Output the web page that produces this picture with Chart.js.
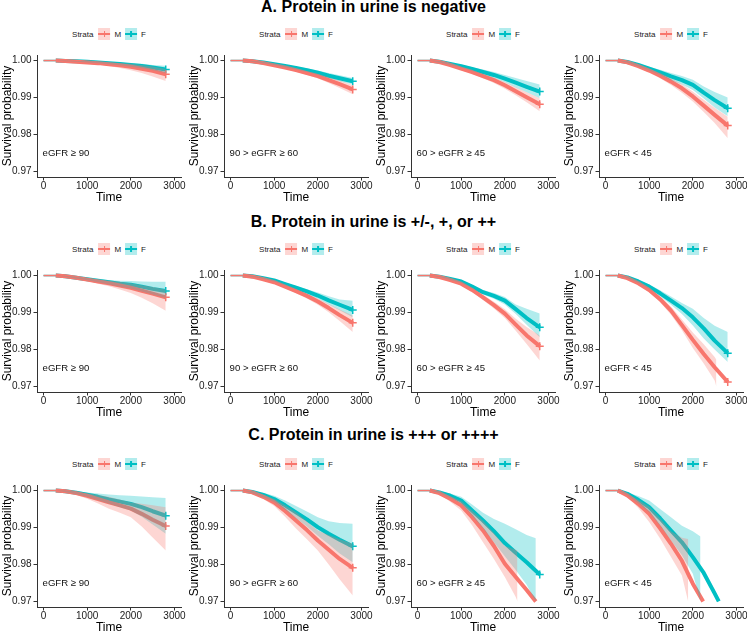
<!DOCTYPE html>
<html lang="en">
<head>
    <meta charset="UTF-8">
    <title>Survival probability by eGFR and urine protein</title>
    <script src="https://cdn.jsdelivr.net/npm/chart.js"></script>
    <style>
        body {
            margin: 0;
            width: 747px;
            height: 631px;
            overflow: hidden;
            background: #fff;
            position: relative;
            font-family: "Liberation Sans", Arial, sans-serif;
        }
        .row-title {
            position: absolute;
            left: 0;
            width: 747px;
            text-align: center;
            font-weight: bold;
            font-size: 16px;
            line-height: 16px;
            color: #000;
        }
        .panel { position: absolute; }
        .legend {
            position: absolute;
            display: flex;
            align-items: center;
            font-size: 8px;
            color: #222;
            white-space: nowrap;
            transform: translate(-50%, -50%);
        }
        .key { position: relative; width: 12px; height: 12px; margin: 0 4px 0 4px; }
        .key .h { position: absolute; left: 0; top: 5.25px; width: 12px; height: 1.5px; }
        .key .v { position: absolute; left: 5.25px; top: 3px; width: 1.5px; height: 6px; }
    </style>
</head>
<body>
    <script>
        const rowTitles = [
            'A. Protein in urine is negative',
            'B. Protein in urine is +/-, +, or ++',
            'C. Protein in urine is +++ or ++++'
        ];
        const stratumLabels = ['eGFR ≥ 90', '90 > eGFR ≥ 60', '60 > eGFR ≥ 45', 'eGFR < 45'];
        const strataNames = ['M', 'F'];
        const xTickValues = [0, 1000, 2000, 3000];
        const yTickValues = [0.97, 0.98, 0.99, 1.00];
        const censorStart = 280;

        // follow-up times (days) at which the curves were read
        const timeGrid = [0, 280, 500, 750, 1000, 1250, 1500, 1750, 2000, 2250, 2500, 2800];

        // panels in order A1..A4, B1..B4, C1..C4 ; null = curve already below 0.97
        const survM = [
            [1, 1, 0.9999, 0.9997, 0.9995, 0.9993, 0.9990, 0.9987, 0.9983, 0.9978, 0.9972, 0.9963],
            [1, 1, 0.9998, 0.9993, 0.9987, 0.9981, 0.9974, 0.9966, 0.9958, 0.9947, 0.9936, 0.9922],
            [1, 1, 0.9996, 0.9988, 0.9978, 0.9969, 0.9958, 0.9947, 0.9933, 0.9917, 0.9901, 0.9882],
            [1, 1, 0.9995, 0.9985, 0.9973, 0.9959, 0.9943, 0.9925, 0.9903, 0.9878, 0.9853, 0.9824],
            [1, 1, 0.9998, 0.9994, 0.9989, 0.9984, 0.9979, 0.9973, 0.9967, 0.9959, 0.9951, 0.9941],
            [1, 1, 0.9997, 0.9990, 0.9982, 0.9970, 0.9958, 0.9945, 0.9930, 0.9912, 0.9893, 0.9872],
            [1, 1, 0.9996, 0.9988, 0.9978, 0.9961, 0.9941, 0.9920, 0.9897, 0.9867, 0.9838, 0.9809],
            [1, 1, 0.9993, 0.9979, 0.9961, 0.9936, 0.9905, 0.9866, 0.9826, 0.9788, 0.9752, 0.9712],
            [1, 1, 0.9998, 0.9993, 0.9986, 0.9977, 0.9968, 0.9960, 0.9951, 0.9937, 0.9921, 0.9904],
            [1, 1, 0.9995, 0.9983, 0.9968, 0.9945, 0.9919, 0.9893, 0.9865, 0.9840, 0.9815, 0.9791],
            [1, 1, 0.9993, 0.9978, 0.9960, 0.9928, 0.9892, 0.9850, 0.9802, 0.9766, 0.9731, null],
            [1, 1, 0.9987, 0.9964, 0.9937, 0.9898, 0.9856, 0.9810, 0.9748, null, null, null]
        ];
        const survF = [
            [1, 1, 0.9999, 0.9998, 0.9997, 0.9995, 0.9993, 0.9991, 0.9988, 0.9985, 0.9981, 0.9976],
            [1, 1, 0.9998, 0.9995, 0.9990, 0.9985, 0.9980, 0.9974, 0.9967, 0.9959, 0.9952, 0.9944],
            [1, 1, 0.9997, 0.9991, 0.9985, 0.9977, 0.9969, 0.9961, 0.9951, 0.9940, 0.9929, 0.9916],
            [1, 1, 0.9996, 0.9988, 0.9978, 0.9968, 0.9957, 0.9947, 0.9934, 0.9913, 0.9893, 0.9871],
            [1, 1, 0.9998, 0.9994, 0.9990, 0.9986, 0.9982, 0.9978, 0.9975, 0.9970, 0.9964, 0.9958],
            [1, 1, 0.9998, 0.9993, 0.9987, 0.9977, 0.9967, 0.9957, 0.9946, 0.9933, 0.9921, 0.9907],
            [1, 1, 0.9997, 0.9991, 0.9984, 0.9970, 0.9955, 0.9945, 0.9932, 0.9909, 0.9885, 0.9860],
            [1, 1, 0.9995, 0.9984, 0.9970, 0.9952, 0.9932, 0.9912, 0.9887, 0.9857, 0.9824, 0.9790],
            [1, 1, 0.9998, 0.9994, 0.9989, 0.9983, 0.9976, 0.9970, 0.9964, 0.9955, 0.9944, 0.9932],
            [1, 1, 0.9996, 0.9988, 0.9977, 0.9960, 0.9941, 0.9922, 0.9901, 0.9883, 0.9867, 0.9849],
            [1, 1, 0.9995, 0.9986, 0.9973, 0.9946, 0.9919, 0.9890, 0.9858, 0.9832, 0.9806, 0.9773],
            [1, 1, 0.9991, 0.9975, 0.9955, 0.9925, 0.9892, 0.9860, 0.9820, 0.9777, 0.9722, null]
        ];

        // 95% confidence bands
        const lowerM = [
            [1, 1, 0.9998, 0.9995, 0.9992, 0.9989, 0.9985, 0.9980, 0.9974, 0.9966, 0.9957, 0.9945],
            [1, 1, 0.9997, 0.9991, 0.9985, 0.9978, 0.9970, 0.9961, 0.9952, 0.9939, 0.9926, 0.9909],
            [1, 1, 0.9994, 0.9985, 0.9974, 0.9964, 0.9952, 0.9939, 0.9924, 0.9906, 0.9887, 0.9863],
            [1, 1, 0.9993, 0.9981, 0.9968, 0.9952, 0.9934, 0.9913, 0.9889, 0.9861, 0.9831, 0.9790],
            [1, 1, 0.9997, 0.9991, 0.9985, 0.9978, 0.9971, 0.9962, 0.9953, 0.9940, 0.9925, 0.9905],
            [1, 1, 0.9996, 0.9988, 0.9979, 0.9966, 0.9953, 0.9938, 0.9921, 0.9901, 0.9877, 0.9847],
            [1, 1, 0.9995, 0.9985, 0.9974, 0.9956, 0.9934, 0.9911, 0.9885, 0.9851, 0.9815, 0.9770],
            [1, 1, 0.9991, 0.9975, 0.9955, 0.9928, 0.9894, 0.9852, 0.9804, 0.9762, 0.9716, null],
            [1, 1, 0.9996, 0.9988, 0.9978, 0.9965, 0.9951, 0.9940, 0.9928, 0.9903, 0.9873, 0.9838],
            [1, 1, 0.9992, 0.9977, 0.9958, 0.9929, 0.9897, 0.9868, 0.9838, 0.9800, 0.9760, 0.9716],
            [1, 1, 0.9990, 0.9970, 0.9946, 0.9906, 0.9860, 0.9815, 0.9766, 0.9712, null, null],
            [1, 1, 0.9983, 0.9953, 0.9915, 0.9870, 0.9820, 0.9770, null, null, null, null]
        ];
        const upperM = [
            [1, 1, 1.0000, 0.9999, 0.9998, 0.9997, 0.9995, 0.9993, 0.9991, 0.9988, 0.9984, 0.9977],
            [1, 1, 0.9999, 0.9995, 0.9989, 0.9984, 0.9978, 0.9971, 0.9964, 0.9955, 0.9946, 0.9934],
            [1, 1, 0.9998, 0.9991, 0.9982, 0.9974, 0.9964, 0.9954, 0.9942, 0.9928, 0.9914, 0.9898],
            [1, 1, 0.9997, 0.9989, 0.9978, 0.9966, 0.9952, 0.9936, 0.9916, 0.9894, 0.9872, 0.9848],
            [1, 1, 0.9999, 0.9997, 0.9993, 0.9990, 0.9986, 0.9983, 0.9979, 0.9974, 0.9969, 0.9962],
            [1, 1, 0.9998, 0.9992, 0.9985, 0.9974, 0.9963, 0.9951, 0.9938, 0.9923, 0.9908, 0.9892],
            [1, 1, 0.9997, 0.9991, 0.9982, 0.9966, 0.9948, 0.9929, 0.9909, 0.9883, 0.9861, 0.9838],
            [1, 1, 0.9995, 0.9983, 0.9967, 0.9944, 0.9916, 0.9881, 0.9846, 0.9814, 0.9780, null],
            [1, 1, 0.9999, 0.9997, 0.9993, 0.9988, 0.9983, 0.9976, 0.9968, 0.9964, 0.9960, 0.9955],
            [1, 1, 0.9998, 0.9989, 0.9977, 0.9960, 0.9941, 0.9916, 0.9892, 0.9880, 0.9868, 0.9856],
            [1, 1, 0.9996, 0.9985, 0.9972, 0.9946, 0.9918, 0.9885, 0.9850, 0.9840, null, null],
            [1, 1, 0.9991, 0.9975, 0.9957, 0.9925, 0.9890, 0.9872, null, null, null, null]
        ];
        const lowerF = [
            [1, 1, 0.9998, 0.9997, 0.9995, 0.9993, 0.9990, 0.9987, 0.9983, 0.9979, 0.9974, 0.9966],
            [1, 1, 0.9997, 0.9993, 0.9988, 0.9982, 0.9976, 0.9969, 0.9961, 0.9952, 0.9944, 0.9935],
            [1, 1, 0.9995, 0.9988, 0.9981, 0.9972, 0.9962, 0.9953, 0.9941, 0.9927, 0.9914, 0.9898],
            [1, 1, 0.9994, 0.9984, 0.9973, 0.9961, 0.9947, 0.9935, 0.9920, 0.9897, 0.9873, 0.9849],
            [1, 1, 0.9997, 0.9992, 0.9987, 0.9982, 0.9976, 0.9970, 0.9965, 0.9957, 0.9949, 0.9939],
            [1, 1, 0.9997, 0.9991, 0.9984, 0.9973, 0.9962, 0.9950, 0.9937, 0.9922, 0.9906, 0.9887],
            [1, 1, 0.9996, 0.9988, 0.9980, 0.9965, 0.9949, 0.9937, 0.9922, 0.9896, 0.9867, 0.9833],
            [1, 1, 0.9993, 0.9980, 0.9964, 0.9944, 0.9921, 0.9896, 0.9865, 0.9830, 0.9800, 0.9766],
            [1, 1, 0.9996, 0.9990, 0.9983, 0.9974, 0.9964, 0.9955, 0.9946, 0.9929, 0.9908, 0.9883],
            [1, 1, 0.9993, 0.9982, 0.9969, 0.9948, 0.9926, 0.9903, 0.9878, 0.9855, 0.9830, 0.9806],
            [1, 1, 0.9993, 0.9980, 0.9964, 0.9932, 0.9898, 0.9860, 0.9822, 0.9785, 0.9745, null],
            [1, 1, 0.9987, 0.9965, 0.9941, 0.9905, 0.9865, 0.9825, 0.9775, null, null, null]
        ];
        const upperF = [
            [1, 1, 1.0000, 0.9999, 0.9999, 0.9998, 0.9996, 0.9995, 0.9993, 0.9991, 0.9988, 0.9986],
            [1, 1, 0.9999, 0.9997, 0.9992, 0.9988, 0.9984, 0.9979, 0.9973, 0.9966, 0.9960, 0.9953],
            [1, 1, 0.9999, 0.9994, 0.9989, 0.9982, 0.9976, 0.9969, 0.9961, 0.9953, 0.9945, 0.9935],
            [1, 1, 0.9998, 0.9992, 0.9983, 0.9975, 0.9966, 0.9958, 0.9948, 0.9930, 0.9915, 0.9900],
            [1, 1, 0.9999, 0.9997, 0.9993, 0.9990, 0.9988, 0.9986, 0.9985, 0.9984, 0.9983, 0.9983],
            [1, 1, 0.9999, 0.9995, 0.9990, 0.9981, 0.9972, 0.9963, 0.9954, 0.9944, 0.9935, 0.9932],
            [1, 1, 0.9998, 0.9994, 0.9988, 0.9975, 0.9961, 0.9953, 0.9942, 0.9922, 0.9910, 0.9897],
            [1, 1, 0.9997, 0.9988, 0.9976, 0.9960, 0.9943, 0.9926, 0.9910, 0.9885, 0.9864, 0.9847],
            [1, 1, 1.0000, 0.9998, 0.9995, 0.9992, 0.9989, 0.9987, 0.9986, 0.9984, 0.9982, 0.9980],
            [1, 1, 0.9999, 0.9994, 0.9986, 0.9973, 0.9958, 0.9943, 0.9928, 0.9917, 0.9912, 0.9910],
            [1, 1, 0.9998, 0.9992, 0.9983, 0.9962, 0.9940, 0.9923, 0.9910, 0.9895, 0.9880, null],
            [1, 1, 0.9995, 0.9985, 0.9973, 0.9950, 0.9928, 0.9905, 0.9890, null, null, null]
        ];

        // last point where a curve reaches the 0.97 floor: [time, survival]
        const endM = [null, null, null, null, null, null, null, null, null, null, [2710, 0.9700], [2237, 0.9700]];
        const endF = [null, null, null, null, null, null, null, null, null, null, null, [2595, 0.9700]];
        // last point of a band before its lower edge leaves the plot: [time, lower, upper]
        const bandEndM = [null, null, null, null, null, null, null, [2540, 0.9700, 0.9772],
            null, null, [2290, 0.9700, 0.9838], [1893, 0.9700, 0.9869]];
        const bandEndF = [null, null, null, null, null, null, null, null,
            null, null, [2710, 0.9700, 0.9871], [2176, 0.9700, 0.9876]];

        const colorM = '#F8766D';
        const colorF = '#00BFC4';
        const bandColorM = 'rgba(248, 118, 109, 0.3)';
        const bandColorF = 'rgba(0, 191, 196, 0.3)';
        const font = '"Liberation Sans", Arial, sans-serif';
        const axisColor = '#333';

        const axisLeft = [37, 224, 411, 599];
        const plotTop = [55, 270, 485];
        const titleTop = [-1.5, 213.5, 426.5];

        function points(values, extra) {
            const pts = [];
            timeGrid.forEach((t, i) => {
                if (values[i] !== null) pts.push({ x: t, y: values[i] });
            });
            if (extra) pts.push({ x: extra[0], y: extra[1] });
            return pts;
        }

        function bandSets(lower, upper, end, color) {
            const lo = points(lower, end && [end[0], end[1]]);
            const hi = points(upper, end && [end[0], end[2]]);
            return [
                { data: hi, fill: '+1', backgroundColor: color, borderColor: 'rgba(0,0,0,0)', borderWidth: 0, pointRadius: 0 },
                { data: lo, fill: false, borderColor: 'rgba(0,0,0,0)', borderWidth: 0, pointRadius: 0 }
            ];
        }

        function lineSet(pts, color, cut) {
            return {
                data: pts,
                fill: false,
                borderColor: color,
                backgroundColor: color,
                borderWidth: 4,
                borderJoinStyle: 'round',
                segment: {
                    borderWidth: c => c.p1.parsed.x <= censorStart ? 1.5 : 4
                },
                pointStyle: 'cross',
                pointBorderColor: color,
                pointBorderWidth: 1.5,
                pointRadius: c => (!cut && c.dataIndex === pts.length - 1) ? 4 : 0
            };
        }

        const stratumLabel = {
            id: 'stratumLabel',
            afterDatasetsDraw(chart, args, opts) {
                const { ctx, scales } = chart;
                ctx.save();
                ctx.font = '9.6px ' + font;
                ctx.fillStyle = '#111';
                ctx.textAlign = 'left';
                ctx.textBaseline = 'middle';
                ctx.fillText(opts.text, scales.x.getPixelForValue(0) - 1, scales.y.getPixelForValue(0.975));
                ctx.restore();
            }
        };

        rowTitles.forEach((text, row) => {
            const div = document.createElement('div');
            div.className = 'row-title';
            div.style.top = titleTop[row] + 'px';
            div.textContent = text;
            document.body.appendChild(div);
        });

        function makeLegend(cx, cy) {
            const lg = document.createElement('div');
            lg.className = 'legend';
            lg.style.left = cx + 'px';
            lg.style.top = cy + 'px';
            let html = '<span style="margin-right:1px">Strata</span>';
            strataNames.forEach((name, k) => {
                const c = k === 0 ? colorM : colorF;
                const b = k === 0 ? bandColorM : bandColorF;
                html += '<div class="key" style="background:' + b + '">' +
                    '<div class="h" style="background:' + c + '"></div>' +
                    '<div class="v" style="background:' + c + '"></div></div>' +
                    '<span>' + name + '</span>';
            });
            lg.innerHTML = html;
            document.body.appendChild(lg);
        }

        for (let row = 0; row < 3; row++) {
            for (let col = 0; col < 4; col++) {
                const p = row * 4 + col;
                const canvas = document.createElement('canvas');
                canvas.width = 187;
                canvas.height = 160;
                canvas.className = 'panel';
                canvas.style.left = (axisLeft[col] - 37) + 'px';
                canvas.style.top = (plotTop[row] - 8) + 'px';
                document.body.appendChild(canvas);

                makeLegend(axisLeft[col] + 72, plotTop[row] - 21);

                new Chart(canvas, {
                    type: 'line',
                    data: {
                        datasets: [
                            ...bandSets(lowerM[p], upperM[p], bandEndM[p], bandColorM),
                            ...bandSets(lowerF[p], upperF[p], bandEndF[p], bandColorF),
                            lineSet(points(survM[p], endM[p]), colorM, endM[p]),
                            lineSet(points(survF[p], endF[p]), colorF, endF[p])
                        ]
                    },
                    options: {
                        responsive: false,
                        animation: false,
                        devicePixelRatio: 1,
                        layout: { padding: { left: 0, top: 8, right: 6, bottom: 2 } },
                        plugins: {
                            legend: { display: false },
                            tooltip: { enabled: false },
                            stratumLabel: { text: stratumLabels[col] }
                        },
                        scales: {
                            x: {
                                type: 'linear',
                                min: -150,
                                max: 3150,
                                afterBuildTicks: s => { s.ticks = xTickValues.map(v => ({ value: v })); },
                                afterFit: s => { s.height = 28; s.paddingLeft = 0; s.paddingRight = 0; },
                                grid: { display: true, drawOnChartArea: false, drawTicks: true, tickLength: 3.5, color: axisColor },
                                border: { display: true, color: axisColor, width: 1 },
                                ticks: {
                                    color: '#1a1a1a', font: { family: font, size: 10 }, padding: 0,
                                    maxRotation: 0, autoSkip: false, callback: v => String(v)
                                },
                                title: { display: true, text: 'Time', color: '#000', font: { family: font, size: 12 }, padding: 0 }
                            },
                            y: {
                                type: 'linear',
                                min: 0.9685,
                                max: 1.0015,
                                afterBuildTicks: s => { s.ticks = yTickValues.map(v => ({ value: v })); },
                                afterFit: s => { s.width = 37; s.paddingTop = 0; s.paddingBottom = 0; },
                                grid: { display: true, drawOnChartArea: false, drawTicks: true, tickLength: 3.5, color: axisColor },
                                border: { display: true, color: axisColor, width: 1 },
                                ticks: {
                                    color: '#1a1a1a', font: { family: font, size: 10 }, padding: 2,
                                    autoSkip: false, callback: v => v.toFixed(2)
                                },
                                title: { display: true, text: 'Survival probability', color: '#000', font: { family: font, size: 12 }, padding: 0 }
                            }
                        }
                    },
                    plugins: [stratumLabel]
                });
            }
        }
    </script>
</body>
</html>
